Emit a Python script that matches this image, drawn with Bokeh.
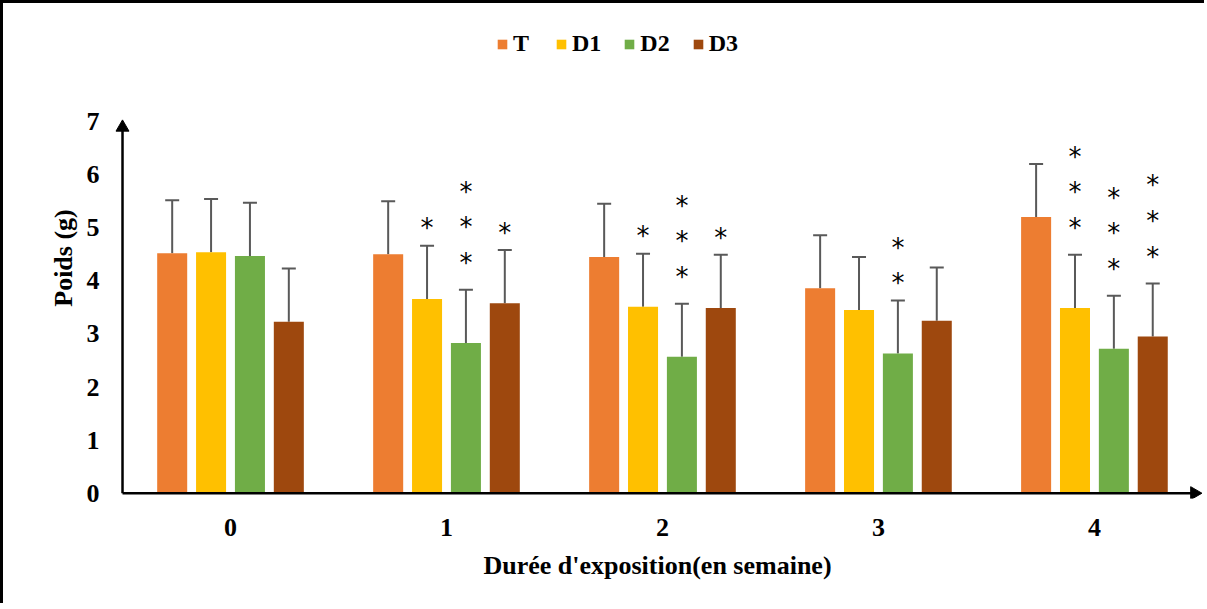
import math
from bokeh.plotting import figure
from bokeh.models import (ColumnDataSource, FixedTicker, Whisker,
                          TeeHead, Legend, LegendItem, Range1d)
from bokeh.core.properties import value
from bokeh.embed import file_html
from bokeh.resources import INLINE

# ---- data ----
weeks = [0, 1, 2, 3, 4]
week_labels = ["0", "1", "2", "3", "4"]
series = ["T", "D1", "D2", "D3"]
colors = ["#ED7D31", "#FFC000", "#70AD47", "#9E480E"]

T_mean = [4.52, 4.50, 4.45, 3.86, 5.20]
D1_mean = [4.54, 3.66, 3.51, 3.45, 3.49]
D2_mean = [4.47, 2.83, 2.57, 2.63, 2.72]
D3_mean = [3.23, 3.58, 3.49, 3.25, 2.95]

T_err = [1.0, 1.0, 1.0, 1.0, 1.0]
D1_err = [1.0, 1.0, 1.0, 1.0, 1.0]
D2_err = [1.0, 1.0, 1.0, 1.0, 1.0]
D3_err = [1.0, 1.0, 1.0, 1.0, 1.0]

# number of significance asterisks per bar
T_stars = [0, 0, 0, 0, 0]
D1_stars = [0, 1, 1, 0, 3]
D2_stars = [0, 3, 3, 2, 3]
D3_stars = [0, 1, 1, 0, 3]

y_ticks = [0, 1, 2, 3, 4, 5, 6, 7]

means = [T_mean, D1_mean, D2_mean, D3_mean]
errs = [T_err, D1_err, D2_err, D3_err]
stars = [T_stars, D1_stars, D2_stars, D3_stars]

FONT = "Liberation Serif"
X_LO = -0.5

p = figure(width=1204, height=603,
           x_range=Range1d(-0.551, 4.505), y_range=Range1d(-0.1, 8.96),
           output_backend="svg", toolbar_location=None,
           min_border_left=108, min_border_right=4,
           min_border_top=14, min_border_bottom=108)
p.outline_line_color = None
p.xgrid.grid_line_color = None
p.ygrid.grid_line_color = None
p.styles = {"border-top": "3px solid black", "border-left": "3px solid black"}

bar_w = 0.139
step = 0.18
renderers = []
star_x, star_y = [], []
for i, s in enumerate(series):
    off = (i - 1.5) * step
    xs = [w + off for w in weeks]
    ups = [m + e for m, e in zip(means[i], errs[i])]
    src = ColumnDataSource(dict(x=xs, top=means[i], upper=ups))
    r = p.vbar(x="x", top="top", bottom=0, width=bar_w, source=src,
               fill_color=colors[i], line_color=None)
    renderers.append(r)
    wh = Whisker(source=src, base="x", lower="top", upper="upper",
                 lower_head=None,
                 upper_head=TeeHead(size=14, line_color="#595959", line_width=2),
                 line_color="#595959", line_width=2)
    p.add_layout(wh)
    for x, u, n in zip(xs, ups, stars[i]):
        gap = 0.6 if n >= 3 else 0.42
        for k in range(n):
            star_x.append(x)
            star_y.append(u + gap + 0.67 * k)

p.text(x=star_x, y=star_y, text=["*"] * len(star_x),
       text_font=value("DejaVu Sans"), text_font_size="26px",
       text_align="center", text_baseline="alphabetic", y_offset=5,
       text_color="black")

# axis lines with arrow heads
x_end = 4.463
y_end = 6.89
p.segment(x0=[X_LO, X_LO], y0=[0, 0], x1=[X_LO, x_end], y1=[y_end, 0],
          line_color="black", line_width=2.5)
p.scatter(x=[X_LO], y=[y_end], marker="triangle", size=13,
          fill_color="black", line_color="black")
p.scatter(x=[x_end], y=[0], marker="triangle", size=13, angle=-math.pi / 2,
          fill_color="black", line_color="black")

# axes
for ax in (p.xaxis[0], p.yaxis[0]):
    ax.axis_line_color = None
    ax.major_tick_line_color = None
    ax.minor_tick_line_color = None
    ax.major_tick_out = 0
    ax.major_tick_in = 0
    ax.major_label_text_font = FONT
    ax.major_label_text_font_style = "bold"
    ax.major_label_text_font_size = "26px"
    ax.major_label_text_color = "black"
    ax.axis_label_text_font = FONT
    ax.axis_label_text_font_style = "bold"
    ax.axis_label_text_font_size = "26px"
    ax.axis_label_text_color = "black"

p.xaxis.ticker = FixedTicker(ticks=weeks)
p.xaxis.major_label_overrides = {w: l for w, l in zip(weeks, week_labels)}
p.xaxis.major_label_standoff = 20
p.xaxis.axis_label = "Durée d'exposition(en semaine)"
p.xaxis.axis_label_standoff = 12

p.yaxis.ticker = FixedTicker(ticks=y_ticks)
p.yaxis.major_label_standoff = 12
p.yaxis.axis_label = "Poids (g)"
p.yaxis.axis_label_standoff = 6

legend = Legend(items=[LegendItem(label=s, renderers=[r]) for s, r in zip(series, renderers)],
                orientation="horizontal", location=(385, 441),
                label_text_font=FONT, label_text_font_style="bold",
                label_text_font_size="24px", label_text_color="black",
                glyph_width=12, glyph_height=12, spacing=22, label_standoff=5,
                border_line_color=None, background_fill_alpha=0, padding=0, margin=0)
p.add_layout(legend)

open("out.html", "w").write(file_html(p, INLINE))
